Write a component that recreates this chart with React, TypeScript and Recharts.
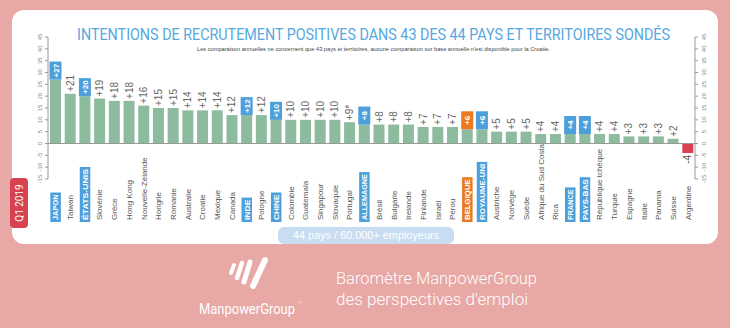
import { Bar, BarChart, ReferenceLine, XAxis, YAxis } from 'recharts';

const countries = [
  'JAPON', 'Taiwan', 'ÉTATS-UNIS', 'Slovénie', 'Grèce', 'Hong Kong', 'Nouvelle-Zélande', 'Hongrie',
  'Romanie', 'Australie', 'Croatie', 'Mexique', 'Canada', 'INDE', 'Pologne', 'CHINE', 'Colombie',
  'Guatemala', 'Singapour', 'Slovaquie', 'Portugal', 'ALLEMAGNE', 'Brésil', 'Bulgarie', 'Irelande',
  'Finlande', 'Israël', 'Pérou', 'BELGIQUE', 'ROYAUME-UNI', 'Austriche', 'Norvège', 'Suède',
  'Afrique du Sud Costa', 'Rica', 'FRANCE', 'PAYS-BAS', 'République tchèque', 'Turquie', 'Espagne',
  'Italie', 'Panama', 'Suisse', 'Argentine',
];
const values = [
  27, 21, 20, 19, 18, 18, 16, 15, 15, 14, 14, 14, 12, 12, 12, 10, 10, 10, 10, 10, 9, 8, 8, 8, 8,
  7, 7, 7, 6, 6, 5, 5, 5, 4, 4, 4, 4, 4, 4, 3, 3, 3, 2, -4,
];
const valueLabels = [
  '+27', '+21', '+20', '+19', '+18', '+18', '+16', '+15', '+15', '+14', '+14', '+14', '+12', '+12',
  '+12', '+10', '+10', '+10', '+10', '+10', '+9*', '+8', '+8', '+8', '+8', '+7', '+7', '+7', '+6',
  '+6', '+5', '+5', '+5', '+4', '+4', '+4', '+4', '+4', '+4', '+3', '+3', '+3', '+2', '-4',
];
const blueCountries = ['JAPON', 'ÉTATS-UNIS', 'INDE', 'CHINE', 'ALLEMAGNE', 'ROYAUME-UNI', 'FRANCE', 'PAYS-BAS'];
const orangeCountries = ['BELGIQUE'];
const yTicks = [-15, -10, -5, 0, 5, 10, 15, 20, 25, 30, 35, 40, 45];

const BLUE = '#4c9fdb';
const ORANGE = '#e97a1f';
const GREEN = '#8dbb9e';
const RED = '#d8424f';
const PINK = '#e8a8a5';
const FONT = '"Liberation Sans", Arial, sans-serif';

const data = countries.map((name, i) => ({ name, value: values[i], label: valueLabels[i] }));

function boxColor(name: string) {
  if (blueCountries.includes(name)) return BLUE;
  if (orangeCountries.includes(name)) return ORANGE;
  return null;
}

function BarShape(props: any) {
  const { x, y, width, height, payload } = props;
  const top = Math.min(y, y + height);
  const h = Math.abs(height);
  const cx = x + width / 2;
  const neg = payload.value < 0;
  const box = boxColor(payload.name);
  return (
    <g>
      <rect x={x} y={top} width={width} height={h} fill={neg ? RED : GREEN} />
      {box ? (
        <g>
          <rect x={x - 0.5} y={top - 18} width={width + 1} height={18} fill={box} />
          <text
            transform={`translate(${cx + 3},${top - 9}) rotate(-90)`}
            textAnchor="middle"
            fontSize={8}
            fontWeight="bold"
            fill="#fff"
            fontFamily={FONT}
          >
            {payload.label}
          </text>
        </g>
      ) : neg ? (
        <text
          transform={`translate(${cx + 3},${top + h + 2}) rotate(-90)`}
          textAnchor="end"
          fontSize={10}
          fill="#555"
          fontFamily={FONT}
        >
          {payload.label}
        </text>
      ) : (
        <text
          transform={`translate(${cx + 3.5},${top - 2}) rotate(-90)`}
          textAnchor="start"
          fontSize={10}
          fill="#666"
          fontFamily={FONT}
        >
          {payload.label}
        </text>
      )}
    </g>
  );
}

function CountryTick(props: any) {
  const { x, y, payload } = props;
  const name = payload.value as string;
  const box = boxColor(name);
  const by = y + 41;
  if (box) {
    const len = name.length * 5.1;
    return (
      <g transform={`translate(${x + 3},${by}) rotate(-90)`}>
        <rect x={-2} y={-8} width={len + 4} height={10.5} fill={box} />
        <text
          x={0}
          y={0}
          fontSize={8}
          fontWeight="bold"
          fill="#fff"
          fontFamily={FONT}
          textLength={len}
          lengthAdjust="spacingAndGlyphs"
        >
          {name}
        </text>
      </g>
    );
  }
  return (
    <text transform={`translate(${x + 3},${by}) rotate(-90)`} fontSize={8} fill="#555" fontFamily={FONT}>
      {name}
    </text>
  );
}

function LeftTick(props: any) {
  const { x, y, payload } = props;
  return (
    <text transform={`translate(${x},${y}) rotate(-90)`} textAnchor="middle" fontSize={6} fill="#888" fontFamily={FONT}>
      {payload.value}
    </text>
  );
}

function RightTick(props: any) {
  const { x, y, payload } = props;
  return (
    <text transform={`translate(${x + 5},${y}) rotate(-90)`} textAnchor="middle" fontSize={6} fill="#888" fontFamily={FONT}>
      {payload.value}
    </text>
  );
}

export default function App() {
  return (
    <div style={{ position: 'fixed', left: 0, top: 0, width: 730, height: 328, background: PINK, overflow: 'hidden' }}>
      <div
        style={{ position: 'absolute', left: 12, top: 10, width: 706, height: 234, background: '#fff', borderRadius: 12 }}
      />
      <svg width={730} height={328} style={{ position: 'absolute', left: 0, top: 0 }}>
        <text
          transform="translate(77,40) scale(1,1.25)"
          fontSize={12.8}
          fill="#56a8e0"
          fontFamily="Roboto, sans-serif"
          textLength={593}
          lengthAdjust="spacingAndGlyphs"
        >
          INTENTIONS DE RECRUTEMENT POSITIVES DANS 43 DES 44 PAYS ET TERRITOIRES SONDÉS
        </text>
        <text x={197} y={51} fontSize={6} fill="#444" fontFamily={FONT} textLength={353} lengthAdjust="spacingAndGlyphs">
          Les comparaison annuelles ne concernent que 43 pays et territoires, aucune comparaison sur base annuelle n'est
          disponible pour la Croatie.
        </text>
        <rect x={10} y={178} width={18} height={50} rx={4} fill={RED} />
        <text
          transform="translate(23,203) rotate(-90)"
          textAnchor="middle"
          fontSize={10}
          fill="#fff"
          fontFamily="Roboto, sans-serif"
        >
          Q1 2019
        </text>
        <rect x={278} y={227} width={176} height={17} rx={6} fill="#c8ddf1" />
        <text x={293} y={239} fontSize={10} fill="#fff" fontFamily={FONT} textLength={146} lengthAdjust="spacingAndGlyphs">
          44 pays / 60.000+ employeurs
        </text>
        <g stroke="#fff" strokeLinecap="round">
          <line x1={234} y1={265} x2={231} y2={273} strokeWidth={4} />
          <line x1={242} y1={263} x2={237} y2={278} strokeWidth={4.5} />
          <line x1={250} y1={262} x2={244} y2={282} strokeWidth={5} />
          <line x1={265} y1={260} x2={253} y2={286} strokeWidth={6} />
        </g>
        <text
          transform="translate(199,314) scale(1,1.15)"
          fontSize={12.2}
          fill="#fff"
          fontFamily="Roboto, sans-serif"
          textLength={96}
          lengthAdjust="spacingAndGlyphs"
        >
          ManpowerGroup
        </text>
        <text x={299} y={304} fontSize={4} fill="#fff" fontFamily={FONT}>
          ®
        </text>
        <text x={336} y={284} fontSize={16} fill="#fff" fontWeight={300} fontFamily="Roboto, sans-serif" textLength={201} lengthAdjust="spacingAndGlyphs">
          Baromètre ManpowerGroup
        </text>
        <text x={336} y={305} fontSize={16} fill="#fff" fontWeight={300} fontFamily="Roboto, sans-serif" textLength={192} lengthAdjust="spacingAndGlyphs">
          des perspectives d'emploi
        </text>
      </svg>
      <div style={{ position: 'absolute', left: 0, top: 0 }}>
        <BarChart width={730} height={328} data={data} margin={{ top: 37, right: 15, bottom: 89, left: 28 }} barSize={11}>
          <XAxis
            dataKey="name"
            interval={0}
            height={60}
            axisLine={false}
            tickLine={false}
            tickSize={0}
            tickMargin={0}
            tick={<CountryTick />}
          />
          <YAxis
            yAxisId="left"
            orientation="left"
            width={20}
            domain={[-15, 45]}
            ticks={yTicks}
            interval={0}
            allowDataOverflow
            axisLine={{ stroke: '#999' }}
            tickLine={{ stroke: '#999' }}
            tickSize={3}
            tickMargin={3}
            tick={<LeftTick />}
          />
          <YAxis
            yAxisId="right"
            orientation="right"
            width={20}
            domain={[-15, 45]}
            ticks={yTicks}
            interval={0}
            allowDataOverflow
            axisLine={{ stroke: '#999' }}
            tickLine={{ stroke: '#999' }}
            tickSize={3}
            tickMargin={3}
            tick={<RightTick />}
          />
          <ReferenceLine yAxisId="left" y={0} stroke="#999" />
          <Bar yAxisId="left" dataKey="value" shape={<BarShape />} isAnimationActive={false} />
        </BarChart>
      </div>
    </div>
  );
}
